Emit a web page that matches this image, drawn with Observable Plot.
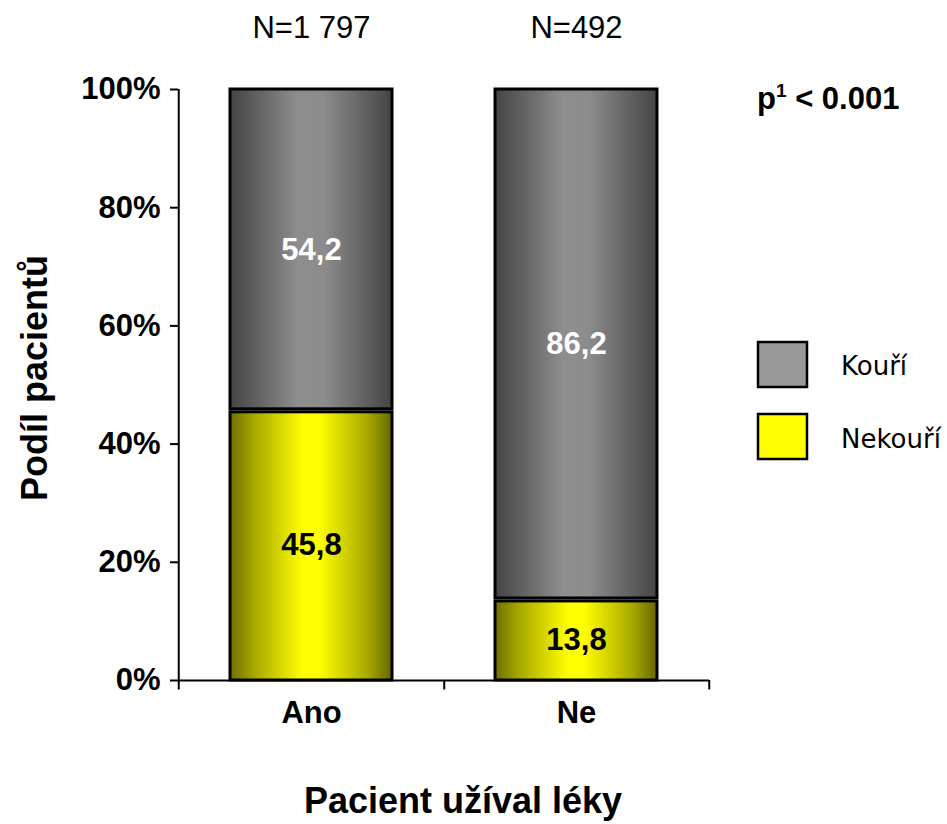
<!DOCTYPE html>
<html><head><meta charset="utf-8">
<script src="https://cdn.jsdelivr.net/npm/d3@7"></script>
<script src="https://cdn.jsdelivr.net/npm/@observablehq/plot@0.6"></script>
<style>
body{margin:0;background:#fff;}
#wrap{position:relative;width:947px;height:824px;}
</style></head>
<body><div id="wrap"></div>
<script>
const categories = ["Ano", "Ne"];
const nLabels = ["N=1 797", "N=492"];
const nekouri = [45.8, 13.8];
const kouri = [54.2, 86.2];
const yTicks = [0, 0.2, 0.4, 0.6, 0.8, 1];
const seriesNames = ["Kouří", "Nekouří"];
const legendColors = ["#999999", "#ffff00"];

const yellowRows = categories.map((c, i) => ({cat: c, y1: 0, y2: nekouri[i] / 100, label: nekouri[i].toFixed(1).replace(".", ",")}));
const grayRows = categories.map((c, i) => ({cat: c, y1: nekouri[i] / 100, y2: (nekouri[i] + kouri[i]) / 100, label: kouri[i].toFixed(1).replace(".", ",")}));
const nRows = categories.map((c, i) => ({cat: c, n: nLabels[i]}));

const FONT = "'Liberation Sans', Arial, sans-serif";
const W = 947, H = 824, mL = 178, mR = 238, mT = 89, mB = 144;
const step = (W - mL - mR) / categories.length;

const plot = Plot.plot({
  width: W, height: H,
  marginLeft: mL, marginRight: mR, marginTop: mT, marginBottom: mB,
  style: {fontFamily: FONT, background: "white", overflow: "visible"},
  x: {type: "band", domain: categories, paddingInner: 0.39, paddingOuter: 0.195},
  y: {domain: [0, 1]},
  marks: [
    Plot.rectY(yellowRows, {x: "cat", y1: "y1", y2: "y2", fill: "url(#gradY)", stroke: "black", strokeWidth: 3, insetTop: 2.5}),
    Plot.rectY(grayRows, {x: "cat", y1: "y1", y2: "y2", fill: "url(#gradK)", stroke: "black", strokeWidth: 3, insetBottom: 0.5}),
    Plot.text(grayRows, {x: "cat", y: d => (d.y1 + d.y2) / 2, text: "label", fill: "white", fontSize: 31, fontWeight: "bold"}),
    Plot.text(yellowRows, {x: "cat", y: d => (d.y1 + d.y2) / 2, text: "label", fill: "black", fontSize: 31, fontWeight: "bold"}),
    Plot.text(nRows, {x: "cat", y: d => 1, text: "n", dy: -61, fontSize: 31, fill: "black"}),
    Plot.ruleY([0], {stroke: "black", strokeWidth: 2}),
    Plot.ruleX(["Ano"], {dx: -step / 2, y1: -0.016, y2: 1, stroke: "black", strokeWidth: 2}),
    Plot.ruleX(categories, {dx: step / 2, y1: -0.016, y2: 0, stroke: "black", strokeWidth: 2}),
    Plot.axisY({ticks: yTicks, tickFormat: d => Math.round(d * 100) + "%", tickSize: 8, tickPadding: 10, fontSize: 31, fontWeight: "bold", label: null, strokeWidth: 2}),
    Plot.axisX({tickSize: 0, tickPadding: 20, fontSize: 31, fontWeight: "bold", label: null})
  ]
});

const svg = d3.select(plot);
const defs = svg.insert("defs", ":first-child");
function grad(id, stops) {
  const g = defs.append("linearGradient").attr("id", id).attr("x1", "0%").attr("x2", "100%").attr("y1", "0%").attr("y2", "0%");
  stops.forEach(([o, c]) => g.append("stop").attr("offset", o).attr("stop-color", c));
}
grad("gradY", [["0%", "#6e6e00"], ["15%", "#a8a800"], ["45%", "#ffff00"], ["55%", "#ffff00"], ["85%", "#a8a800"], ["100%", "#666600"]]);
grad("gradK", [["0%", "#444444"], ["15%", "#5e5e5e"], ["42%", "#8e8e8e"], ["58%", "#8c8c8c"], ["85%", "#5e5e5e"], ["100%", "#444444"]]);

svg.append("text").attr("transform", "translate(47,378) rotate(-90)")
  .attr("text-anchor", "middle")
  .attr("font-size", 36).attr("font-weight", "bold").attr("font-family", FONT)
  .text("Podíl pacientů");
svg.append("text").attr("x", 463).attr("y", 813)
  .attr("text-anchor", "middle")
  .attr("font-size", 36).attr("font-weight", "bold").attr("font-family", FONT)
  .text("Pacient užíval léky");

const pt = svg.append("text").attr("x", 757).attr("y", 109).attr("text-anchor", "start")
  .attr("font-size", 31).attr("font-weight", "bold").attr("font-family", FONT);
pt.append("tspan").text("p");
pt.append("tspan").attr("font-size", 19).attr("dy", -12).text("1");
pt.append("tspan").attr("dy", 12).text(" < 0.001");

seriesNames.forEach((name, i) => {
  svg.append("rect").attr("x", 758).attr("y", 342 + i * 72).attr("width", 49).attr("height", 45)
    .attr("fill", legendColors[i]).attr("stroke", "black").attr("stroke-width", 2.5);
  svg.append("text").attr("x", 841).attr("y", 375 + i * 73).attr("text-anchor", "start")
    .attr("font-size", 26).attr("font-family", "'DejaVu Sans', sans-serif")
    .text(name);
});

document.getElementById("wrap").appendChild(plot);
</script></body></html>
